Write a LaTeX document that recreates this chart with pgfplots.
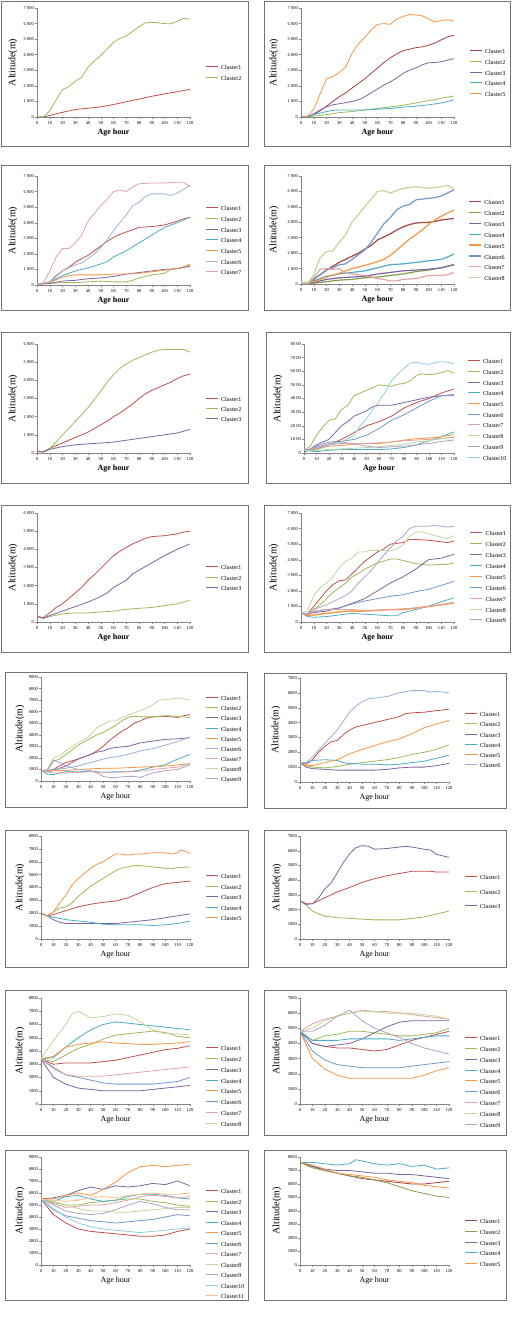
\documentclass[border=0pt]{standalone}
\usepackage{fontspec}
\setmainfont{Liberation Serif}
\usepackage{pgfplots}
\pgfplotsset{compat=1.18}
\definecolor{c1}{HTML}{C0504D}
\definecolor{c2}{HTML}{9BBB59}
\definecolor{c3}{HTML}{8064A2}
\definecolor{c4}{HTML}{4BACC6}
\definecolor{c5}{HTML}{F79646}
\definecolor{c6}{HTML}{7397CC}
\definecolor{c7}{HTML}{E3A3A1}
\definecolor{c8}{HTML}{C3D69B}
\definecolor{c9}{HTML}{B3A2C7}
\definecolor{c10}{HTML}{93CDDD}
\definecolor{c11}{HTML}{FAC090}
\definecolor{axgray}{HTML}{868686}
\pgfplotsset{
  excel/.style={
    scale only axis, xmin=0, xmax=120, ymin=0, anchor=south west,
    axis x line*=bottom, axis y line*=left,
    axis line style={draw=axgray, line width=0.5pt},
    xtick={0,10,...,120},
    xticklabels={0,10,20,30,40,50,60,70,80,90,100,110,120},
    tick style={draw=axgray, line width=0.4pt},
    tick align=outside, major tick length=2pt,
    tick label style={font=\fontsize{4.5}{5}\selectfont, inner sep=1pt},
    xticklabel style={yshift=-1.8pt},
    every axis x label/.style={at={(axis description cs:0.5,0)}, yshift=-16pt, anchor=center},
    ylabel={Altitude(m)}, xlabel={Age hour},
    ylabel style={font=\fontsize{9}{9}\selectfont\bfseries},
    xlabel style={font=\fontsize{8}{8}\selectfont\bfseries},
    legend cell align=left,
    legend image code/.code={\draw[##1] (0pt,1.6pt) -- (12pt,1.6pt);},
    legend style={at={(axis description cs:0,0)}, anchor=north west, draw=none, fill=none,
      font=\fontsize{6}{6}\selectfont, inner xsep=0pt, inner ysep=0pt,
      nodes={inner sep=0pt, text height=4.2pt, text depth=1.2pt}, column sep=3pt},
    every axis plot/.append style={line width=0.8pt, mark=none},
  },
  ylab/.style={every axis y label/.style={at={(axis description cs:#1,0.5)}, rotate=90, anchor=center}},
  light/.style={ylabel style={font=\fontsize{9}{9}\selectfont}, xlabel style={font=\fontsize{8}{8}\selectfont}},
}
\begin{document}
\begin{tikzpicture}[x=1pt,y=1pt]
\fill[white] (0,0) rectangle (514,1324);
\path[use as bounding box] (0,0) rectangle (514,1324);

% ---------- P1 ----------
\begin{axis}[excel, at={(37pt,1207pt)}, width=153pt, height=109pt, ymax=7000,
  ytick={0,1000,...,7000}, yticklabels={0,1 000,2 000,3 000,4 000,5 000,6 000,7 000},
  ylab=-0.157,
  legend style={xshift=168pt, yshift=51.6pt, row sep=5.6pt},
  legend entries={Cluster1,Cluster2}]
\addplot[c1] coordinates {(0,0)(5,0)(10,100)(20,300)(30,480)(40,560)(50,650)(60,800)(70,980)(80,1150)(90,1330)(100,1480)(110,1620)(120,1780)};
\addplot[c2] coordinates {(0,0)(5,0)(10,400)(15,1100)(20,1750)(25,1950)(30,2300)(35,2550)(40,3200)(45,3600)(50,3950)(55,4350)(60,4800)(65,5050)(70,5200)(75,5500)(80,5800)(85,6050)(90,6080)(95,6050)(100,6000)(105,5980)(110,6150)(115,6330)(120,6280)};
\end{axis}

% ---------- P2 ----------
\begin{axis}[excel, at={(301pt,1207pt)}, width=153pt, height=109pt, ymax=7000,
  ytick={0,1000,...,7000}, yticklabels={0,1 000,2 000,3 000,4 000,5 000,6 000,7 000},
  ylab=-0.176,
  legend style={xshift=168pt, yshift=67.6pt, row sep=5.3pt},
  legend entries={Cluster1,Cluster2,Cluster3,Cluster4,Cluster5}]
\addplot[c1!85!black] coordinates {(0,0)(5,20)(10,150)(15,400)(20,700)(25,1000)(30,1300)(35,1550)(40,1850)(45,2150)(50,2450)(55,2800)(60,3150)(65,3500)(70,3800)(75,4050)(80,4250)(85,4350)(90,4450)(95,4500)(100,4600)(105,4750)(110,4950)(115,5150)(120,5250)};
\addplot[c2] coordinates {(0,0)(10,50)(20,150)(30,280)(40,350)(50,450)(60,550)(70,650)(80,750)(90,900)(100,1050)(110,1200)(120,1350)};
\addplot[c3] coordinates {(0,0)(5,30)(10,200)(15,450)(20,650)(25,780)(30,850)(35,920)(40,1000)(45,1100)(50,1300)(55,1550)(60,1800)(65,2050)(70,2250)(75,2500)(80,2800)(85,3000)(90,3150)(95,3350)(100,3480)(105,3500)(110,3550)(115,3650)(120,3750)};
\addplot[c4] coordinates {(0,0)(5,30)(10,150)(15,250)(20,350)(25,420)(30,450)(40,450)(50,450)(60,500)(70,550)(80,630)(90,700)(100,780)(110,900)(120,1100)};
\addplot[c5] coordinates {(0,0)(5,50)(10,500)(15,1500)(20,2450)(25,2600)(30,2850)(35,3200)(40,4100)(45,4700)(50,5100)(55,5600)(60,5950)(65,6000)(70,5950)(75,6300)(80,6450)(85,6580)(90,6550)(95,6500)(100,6300)(105,6100)(110,6200)(115,6250)(120,6150)};
\end{axis}

% ---------- P3 ----------
\begin{axis}[excel, at={(37pt,1039pt)}, width=153pt, height=109pt, ymax=7000,
  ytick={0,1000,...,7000}, yticklabels={0,1 000,2 000,3 000,4 000,5 000,6 000,7 000},
  ylab=-0.157,
  legend style={xshift=168pt, yshift=78.6pt, row sep=5.3pt},
  legend entries={Cluster1,Cluster2,Cluster3,Cluster4,Cluster5,Cluster6,Cluster7}]
\addplot[c1] coordinates {(0,50)(5,80)(10,200)(15,600)(20,900)(25,1150)(30,1450)(35,1700)(40,1900)(45,2200)(50,2500)(55,2800)(60,3050)(65,3250)(70,3400)(75,3550)(80,3700)(90,3750)(100,3850)(110,4100)(115,4250)(120,4350)};
\addplot[c2] coordinates {(0,50)(10,100)(20,150)(30,150)(40,200)(50,250)(60,200)(70,200)(75,300)(80,450)(90,650)(100,750)(105,1000)(110,1050)(115,1150)(120,1350)};
\addplot[c3] coordinates {(0,50)(10,100)(20,250)(30,300)(40,400)(50,450)(60,550)(70,700)(80,800)(90,900)(100,1000)(110,1050)(120,1200)};
\addplot[c4] coordinates {(0,50)(10,200)(20,600)(30,900)(40,1100)(50,1350)(55,1500)(60,1800)(70,2200)(80,2700)(90,3200)(100,3700)(110,4000)(120,4350)};
\addplot[c5] coordinates {(0,50)(10,150)(20,500)(25,600)(30,650)(40,650)(50,650)(60,700)(70,700)(80,750)(90,850)(100,950)(110,1050)(120,1300)};
\addplot[c6!70!white] coordinates {(0,50)(10,200)(20,900)(25,1100)(30,1300)(35,1400)(40,1700)(45,2000)(50,2400)(55,2900)(60,3500)(65,4000)(70,4500)(75,5100)(80,5300)(85,5700)(90,5850)(100,5850)(105,5750)(110,5900)(115,6150)(120,6400)};
\addplot[c7] coordinates {(0,50)(5,100)(10,900)(15,1800)(20,2350)(25,2350)(30,2700)(35,3200)(40,4100)(45,4600)(50,5100)(55,5500)(60,6000)(65,6100)(70,6000)(75,6300)(80,6500)(90,6550)(100,6550)(110,6600)(115,6600)(120,6300)};
\end{axis}

% ---------- P4 ----------
\begin{axis}[excel, at={(301pt,1040pt)}, width=153pt, height=108pt, ymax=7000,
  ytick={0,1000,...,7000}, yticklabels={0,1 000,2 000,3 000,4 000,5 000,6 000,7 000},
  ylab=-0.176,
  every axis plot/.append style={line width=1.2pt},
  legend style={xshift=167pt, yshift=83.6pt, row sep=5.45pt},
  legend entries={Cluster1,Cluster2,Cluster3,Cluster4,Cluster5,Cluster6,Cluster7,Cluster8}]
\addplot[c1!85!black] coordinates {(0,100)(5,50)(10,300)(15,600)(20,900)(25,1150)(30,1400)(35,1600)(40,1800)(45,2000)(50,2250)(55,2500)(60,2850)(65,3050)(70,3250)(75,3500)(80,3700)(85,3850)(90,3950)(100,4000)(105,4050)(110,4150)(120,4250)};
\addplot[c2!85!black] coordinates {(0,100)(5,30)(10,50)(20,150)(30,250)(40,300)(50,400)(60,450)(70,550)(80,650)(90,800)(100,900)(110,1050)(120,1250)};
\addplot[c3] coordinates {(0,100)(5,30)(10,100)(20,300)(30,400)(40,450)(50,500)(60,650)(70,750)(80,850)(90,900)(100,950)(110,1050)(120,1250)};
\addplot[c4] coordinates {(0,100)(5,30)(10,200)(20,500)(30,650)(40,750)(50,850)(60,1050)(70,1250)(80,1300)(90,1400)(100,1500)(110,1600)(115,1750)(120,1950)};
\addplot[c5] coordinates {(0,100)(5,30)(10,150)(20,450)(30,700)(40,1000)(50,1200)(60,1450)(65,1600)(70,1850)(75,2200)(80,2550)(85,2900)(90,3200)(95,3500)(100,3850)(105,4150)(110,4400)(115,4600)(120,4800)};
\addplot[c6] coordinates {(0,100)(5,30)(10,300)(15,600)(20,900)(25,1050)(30,1250)(35,1300)(40,1600)(45,1900)(50,2200)(55,2700)(60,3300)(65,3900)(70,4300)(75,4800)(80,5050)(85,5150)(90,5450)(95,5500)(100,5550)(105,5600)(110,5700)(115,5900)(120,6100)};
\addplot[c7] coordinates {(0,100)(5,30)(10,400)(15,950)(20,1000)(25,950)(30,1000)(35,700)(40,650)(45,600)(50,550)(55,450)(60,350)(65,300)(70,200)(75,200)(80,300)(90,350)(100,550)(110,550)(115,600)(120,750)};
\addplot[c8] coordinates {(0,100)(5,30)(10,600)(15,1700)(20,2100)(25,2150)(30,2700)(35,3200)(40,4000)(45,4500)(50,5000)(55,5500)(60,6000)(65,6050)(70,5900)(75,6050)(80,6200)(85,6250)(90,6300)(95,6250)(100,6200)(105,6250)(110,6300)(115,6400)(120,6150)};
\end{axis}

% ---------- P5 ----------
\begin{axis}[excel, at={(37pt,871pt)}, width=153pt, height=109pt, ymax=6000,
  ytick={0,1000,...,6000}, yticklabels={0,1 000,2 000,3 000,4 000,5 000,6 000},
  ylab=-0.157,
  legend style={xshift=168pt, yshift=55.6pt, row sep=4.6pt},
  legend entries={Cluster1,Cluster2,Cluster3}]
\addplot[c1] coordinates {(0,100)(5,80)(10,250)(15,400)(20,550)(25,700)(30,850)(35,1000)(40,1150)(45,1350)(50,1550)(55,1750)(60,2000)(65,2200)(70,2450)(75,2700)(80,3000)(85,3250)(90,3450)(95,3600)(100,3750)(105,3900)(110,4100)(115,4250)(120,4350)};
\addplot[c2] coordinates {(0,100)(5,50)(10,250)(15,600)(20,1000)(25,1350)(30,1750)(35,2100)(40,2500)(45,2950)(50,3400)(55,3900)(60,4300)(65,4650)(70,4900)(75,5100)(80,5250)(85,5400)(90,5550)(95,5650)(100,5700)(105,5700)(110,5700)(115,5700)(120,5550)};
\addplot[c3] coordinates {(0,100)(5,50)(10,200)(20,350)(30,450)(40,500)(50,550)(60,600)(70,700)(80,800)(90,900)(100,1000)(110,1100)(120,1300)};
\end{axis}

% ---------- P6 ----------
\begin{axis}[excel, at={(304pt,871pt)}, width=150pt, height=109pt, ymax=8000,
  ytick={0,1000,...,8000}, yticklabels={0,10 00,20 00,30 00,40 00,50 00,60 00,70 00,80 00},
  ylab=-0.173,
  legend style={xshift=163pt, yshift=93.6pt, row sep=5.3pt},
  legend entries={Cluster1,Cluster2,Cluster3,Cluster4,Cluster5,Cluster6,Cluster7,Cluster8,Cluster9,Cluster10}]
\addplot[c1] coordinates {(0,100)(5,200)(10,300)(20,600)(30,1000)(40,1500)(50,2000)(60,2300)(70,2700)(80,3300)(90,3700)(100,4000)(110,4400)(120,4700)};
\addplot[c2] coordinates {(0,200)(5,500)(10,1300)(15,1900)(20,2400)(25,2500)(30,3200)(35,3500)(40,4200)(45,4400)(50,4600)(55,4800)(60,5000)(65,4950)(70,4900)(75,5050)(80,5100)(85,5300)(90,5700)(95,5800)(100,5750)(105,5800)(110,5900)(115,6050)(120,5850)};
\addplot[c3] coordinates {(0,100)(5,300)(10,600)(20,1000)(25,1500)(30,2000)(35,2300)(40,2700)(45,2900)(50,3100)(55,3400)(60,3500)(70,3500)(80,3700)(90,3900)(100,4100)(110,4200)(120,4200)};
\addplot[c4] coordinates {(0,200)(10,100)(20,200)(30,250)(40,250)(50,250)(60,250)(70,300)(80,400)(90,600)(100,900)(110,1200)(120,1550)};
\addplot[c5] coordinates {(0,200)(10,300)(20,500)(30,550)(40,650)(50,700)(60,700)(70,800)(80,950)(90,1050)(100,1100)(110,1200)(120,1350)};
\addplot[c6] coordinates {(0,200)(5,200)(10,500)(20,800)(30,850)(40,1000)(50,1300)(60,1800)(70,2400)(80,2800)(90,3300)(100,3800)(110,4200)(120,4300)};
\addplot[c7] coordinates {(0,200)(10,400)(20,700)(30,800)(40,700)(50,700)(60,750)(70,800)(80,900)(90,950)(100,1000)(110,1050)(120,1150)};
\addplot[c8] coordinates {(0,200)(10,200)(20,250)(30,300)(40,350)(50,400)(60,450)(70,550)(80,650)(90,800)(100,900)(110,1050)(120,1200)};
\addplot[c9] coordinates {(0,200)(10,400)(20,600)(30,700)(40,650)(50,500)(60,400)(70,450)(80,500)(90,600)(100,700)(110,850)(120,950)};
\addplot[c10] coordinates {(0,200)(10,200)(20,600)(30,800)(40,1300)(45,2000)(50,2500)(55,3200)(60,3800)(65,4500)(70,5300)(75,5800)(80,6200)(85,6600)(90,6650)(95,6550)(100,6500)(105,6650)(110,6700)(115,6650)(120,6550)};
\end{axis}

% ---------- P7 ----------
\begin{axis}[excel, at={(37pt,702pt)}, width=153pt, height=109pt, ymax=6000,
  ytick={0,1000,...,6000}, yticklabels={0,1 000,2 000,3 000,4 000,5 000,6 000},
  ylab=-0.157,
  legend style={xshift=168pt, yshift=56.6pt, row sep=5.1pt},
  legend entries={Cluster1,Cluster2,Cluster3}]
\addplot[c1] coordinates {(0,300)(5,250)(10,500)(15,800)(20,1000)(25,1300)(30,1600)(35,1900)(40,2300)(45,2600)(50,2950)(55,3300)(60,3650)(65,3900)(70,4100)(75,4300)(80,4450)(85,4600)(90,4700)(100,4750)(110,4850)(115,4950)(120,5000)};
\addplot[c2] coordinates {(0,300)(5,200)(10,300)(20,450)(30,500)(40,500)(50,550)(60,600)(70,700)(80,750)(90,800)(100,900)(110,1000)(120,1200)};
\addplot[c3] coordinates {(0,300)(5,200)(10,350)(20,600)(30,850)(40,1100)(50,1400)(55,1600)(60,1900)(70,2300)(75,2650)(80,2850)(90,3250)(100,3650)(110,4000)(120,4300)};
\end{axis}

% ---------- P8 ----------
\begin{axis}[excel, at={(301pt,702pt)}, width=153pt, height=109pt, ymax=7000,
  ytick={0,1000,...,7000}, yticklabels={0,1 000,2 000,3 000,4 000,5 000,6 000,7 000},
  ylab=-0.176,
  legend style={xshift=168pt, yshift=90.6pt, row sep=5.5pt},
  legend entries={Cluster1,Cluster2,Cluster3,Cluster4,Cluster5,Cluster6,Cluster7,Cluster8,Cluster9}]
\addplot[c1] coordinates {(0,600)(5,500)(10,1000)(15,1500)(20,2000)(25,2400)(30,2650)(35,2700)(40,3100)(45,3500)(50,3900)(55,4200)(60,4500)(65,4700)(70,5000)(75,5050)(80,5100)(85,5300)(90,5300)(100,5250)(110,5150)(115,5100)(120,5200)};
\addplot[c2] coordinates {(0,600)(5,450)(10,800)(15,1100)(20,1500)(25,1900)(30,2200)(35,2500)(40,2900)(45,3100)(50,3400)(55,3600)(60,3800)(65,3900)(70,4050)(75,4050)(80,3950)(85,3850)(90,3750)(100,3650)(110,3700)(115,3700)(120,3800)};
\addplot[c3] coordinates {(0,600)(5,500)(10,600)(20,700)(30,900)(40,1200)(50,1500)(60,2000)(70,2500)(80,2900)(90,3400)(100,4000)(110,4100)(120,4350)};
\addplot[c4] coordinates {(0,600)(5,350)(10,300)(20,350)(30,450)(40,550)(50,500)(60,450)(70,400)(75,400)(80,600)(90,800)(100,1000)(110,1300)(120,1550)};
\addplot[c5, line width=1.4pt] coordinates {(0,600)(5,400)(10,450)(20,550)(30,650)(40,700)(50,700)(60,750)(70,800)(80,800)(90,900)(100,1000)(110,1100)(120,1250)};
\addplot[c6] coordinates {(0,600)(5,450)(10,650)(20,800)(30,900)(40,1150)(50,1350)(60,1500)(70,1650)(80,1750)(90,1950)(100,2100)(110,2350)(120,2600)};
\addplot[c7] coordinates {(0,600)(5,450)(10,700)(20,800)(30,800)(40,800)(50,750)(60,750)(70,800)(80,850)(90,900)(100,1000)(110,1100)(120,1200)};
\addplot[c8] coordinates {(0,600)(5,700)(10,1700)(15,2200)(20,2500)(25,2900)(30,3500)(35,3900)(40,4100)(45,4500)(50,4500)(55,4600)(60,4600)(65,4600)(70,4550)(75,4700)(80,4950)(85,5500)(90,5750)(95,5800)(100,5650)(105,5550)(110,5450)(115,5350)(120,5550)};
\addplot[c9] coordinates {(0,600)(5,500)(10,800)(20,1100)(30,1500)(35,1700)(40,2000)(45,2500)(50,2900)(55,3300)(60,3800)(65,4300)(70,4750)(75,5200)(80,5500)(85,6000)(90,6150)(95,6150)(100,6150)(105,6200)(110,6150)(115,6100)(120,6150)};
\end{axis}

% ---------- P9 ----------
\begin{axis}[excel, light, at={(41pt,543pt)}, width=149pt, height=104pt, ymax=9000,
  ytick={0,1000,...,9000}, yticklabels={0,1000,2000,3000,4000,5000,6000,7000,8000,9000},
  ylab=-0.141,
  legend style={xshift=164pt, yshift=84.6pt, row sep=4.7pt},
  legend entries={Cluster1,Cluster2,Cluster3,Cluster4,Cluster5,Cluster6,Cluster7,Cluster8,Cluster9}]
\addplot[c1] coordinates {(0,900)(5,900)(10,1000)(15,1300)(20,1600)(25,1750)(30,1900)(35,2100)(40,2300)(45,2600)(50,3000)(55,3500)(60,3900)(65,4300)(70,4600)(75,5000)(80,5200)(85,5450)(90,5550)(100,5600)(110,5500)(115,5650)(120,5750)};
\addplot[c2] coordinates {(0,900)(5,900)(10,1700)(15,1900)(20,2300)(25,2700)(30,3100)(35,3400)(40,3700)(45,4000)(50,4200)(55,4500)(60,4800)(65,5200)(70,5500)(75,5600)(80,5550)(90,5550)(100,5650)(110,5600)(120,5500)};
\addplot[c3] coordinates {(0,900)(5,800)(10,900)(15,1100)(20,1300)(25,1600)(30,1900)(35,2100)(40,2300)(45,2500)(50,2600)(55,2800)(60,2900)(70,3000)(80,3300)(90,3450)(100,3600)(110,3650)(120,3750)};
\addplot[c4] coordinates {(0,900)(5,600)(10,550)(15,700)(20,800)(30,800)(40,850)(50,750)(60,800)(70,800)(80,950)(90,1200)(100,1400)(110,1900)(120,2300)};
\addplot[c5] coordinates {(0,900)(10,900)(20,900)(30,1000)(40,1050)(50,1100)(60,1100)(70,1150)(80,1200)(90,1250)(100,1300)(110,1400)(120,1500)};
\addplot[c6!75!white] coordinates {(0,900)(5,800)(10,1000)(20,1100)(30,1300)(40,1600)(50,1900)(60,2100)(70,2300)(80,2600)(90,2800)(100,3100)(110,3400)(120,3800)};
\addplot[c7] coordinates {(0,900)(10,700)(20,700)(30,750)(40,800)(50,750)(60,750)(70,800)(80,850)(90,1000)(100,1100)(110,1200)(120,1500)};
\addplot[c8] coordinates {(0,900)(5,1000)(10,2000)(15,2200)(20,2600)(25,3000)(30,3300)(35,3600)(40,4000)(45,4600)(50,4900)(55,5200)(60,5200)(65,5500)(70,5700)(75,5900)(80,6100)(85,6300)(90,6600)(95,7000)(100,7050)(105,7100)(110,7200)(115,7100)(120,7000)};
\addplot[c9] coordinates {(0,900)(5,900)(10,1800)(15,1600)(20,1300)(30,1000)(40,900)(45,700)(50,400)(55,300)(60,300)(70,400)(75,400)(80,300)(85,500)(90,700)(100,900)(110,1000)(120,1400)};
\end{axis}

% ---------- P10 ----------
\begin{axis}[excel, light, at={(300pt,542pt)}, width=149pt, height=104pt, ymax=7000,
  ytick={0,1000,...,7000}, yticklabels={0,1000,2000,3000,4000,5000,6000,7000},
  ylab=-0.161,
  legend style={xshift=164pt, yshift=69.6pt, row sep=4.8pt},
  legend entries={Cluster1,Cluster2,Cluster3,Cluster4,Cluster5,Cluster6}]
\addplot[c1] coordinates {(0,1300)(5,1200)(10,1500)(15,2000)(20,2400)(25,2700)(30,2800)(35,3200)(40,3500)(45,3700)(50,3800)(60,4000)(70,4200)(80,4400)(85,4600)(90,4650)(100,4700)(110,4800)(120,4900)};
\addplot[c2] coordinates {(0,1300)(5,1100)(10,1000)(20,950)(30,1050)(40,1200)(50,1300)(60,1400)(70,1500)(80,1650)(90,1850)(100,2000)(110,2200)(120,2500)};
\addplot[c3] coordinates {(0,1300)(5,1000)(10,900)(20,850)(30,800)(40,800)(50,800)(60,800)(70,850)(80,950)(90,1000)(100,1000)(110,1100)(120,1250)};
\addplot[c4] coordinates {(0,1300)(5,1300)(10,1450)(20,1500)(30,1450)(35,1300)(40,1250)(50,1200)(60,1200)(70,1150)(80,1200)(90,1300)(100,1400)(110,1600)(120,1800)};
\addplot[c5] coordinates {(0,1300)(5,1100)(10,1100)(20,1300)(30,1500)(40,1900)(50,2200)(60,2450)(70,2700)(80,2900)(90,3250)(100,3650)(110,3900)(120,4150)};
\addplot[c6!75!white] coordinates {(0,1300)(5,1300)(10,1700)(20,2600)(30,3500)(40,4700)(45,5100)(50,5400)(55,5600)(60,5650)(70,5750)(80,6000)(90,6150)(100,6150)(105,6050)(110,6100)(120,6000)};
\end{axis}

% ---------- P11 ----------
\begin{axis}[excel, light, at={(41pt,385pt)}, width=149pt, height=103pt, ymax=8000,
  ytick={0,1000,...,8000}, yticklabels={0,1000,2000,3000,4000,5000,6000,7000,8000},
  ylab=-0.141,
  legend style={xshift=164pt, yshift=64.6pt, row sep=5.1pt},
  legend entries={Cluster1,Cluster2,Cluster3,Cluster4,Cluster5}]
\addplot[c1] coordinates {(0,2000)(5,1800)(10,1900)(20,2200)(30,2500)(40,2700)(50,2850)(60,2950)(70,3200)(80,3600)(90,4000)(100,4300)(110,4400)(120,4500)};
\addplot[c2] coordinates {(0,2000)(5,1800)(10,2100)(15,2400)(20,2500)(25,2800)(30,3300)(35,3700)(40,4100)(45,4400)(50,4700)(55,5000)(60,5300)(65,5500)(70,5600)(75,5700)(80,5700)(90,5600)(100,5500)(105,5450)(110,5550)(120,5600)};
\addplot[c3] coordinates {(0,2000)(5,1800)(10,1500)(15,1300)(20,1200)(30,1200)(40,1200)(50,1200)(60,1200)(70,1300)(80,1400)(90,1500)(100,1650)(110,1800)(120,1950)};
\addplot[c4] coordinates {(0,2000)(5,1800)(10,1700)(20,1500)(30,1400)(40,1300)(50,1150)(60,1100)(70,1100)(80,1100)(90,1050)(100,1100)(110,1200)(120,1400)};
\addplot[c5] coordinates {(0,2000)(5,1800)(10,2100)(15,2800)(20,3400)(25,4200)(30,4700)(35,5100)(40,5500)(45,5800)(50,6000)(55,6300)(60,6600)(65,6600)(70,6500)(75,6600)(80,6600)(90,6700)(100,6700)(105,6600)(110,6700)(112,6900)(115,6850)(120,6650)};
\end{axis}

% ---------- P12 ----------
\begin{axis}[excel, light, at={(300pt,385pt)}, width=149pt, height=103pt, ymax=7000,
  ytick={0,1000,...,7000}, yticklabels={0,1000,2000,3000,4000,5000,6000,7000},
  ylab=-0.154,
  legend style={xshift=164pt, yshift=63.6pt, row sep=9.1pt},
  legend entries={Cluster1,Cluster2,Cluster3}]
\addplot[c1] coordinates {(0,2600)(5,2400)(10,2400)(20,2800)(30,3200)(40,3500)(50,3850)(60,4100)(70,4300)(80,4450)(90,4600)(100,4600)(105,4600)(110,4550)(120,4550)};
\addplot[c2] coordinates {(0,2600)(5,2300)(10,1900)(15,1700)(20,1550)(30,1450)(40,1400)(50,1350)(60,1300)(70,1300)(80,1300)(90,1400)(100,1500)(110,1700)(120,1900)};
\addplot[c3] coordinates {(0,2600)(5,2350)(10,2400)(15,2800)(20,3400)(25,3800)(30,4500)(35,5200)(40,5800)(45,6200)(50,6350)(55,6300)(60,6100)(70,6150)(80,6250)(85,6300)(90,6250)(100,6100)(105,6050)(110,5750)(115,5650)(120,5550)};
\end{axis}

% ---------- P13 ----------
\begin{axis}[excel, light, at={(41pt,220pt)}, width=149pt, height=106pt, ymax=8000,
  ytick={0,1000,...,8000}, yticklabels={0,1000,2000,3000,4000,5000,6000,7000,8000},
  ylab=-0.141,
  legend style={xshift=164pt, yshift=57.6pt, row sep=5.4pt},
  legend entries={Cluster1,Cluster2,Cluster3,Cluster4,Cluster5,Cluster6,Cluster7,Cluster8}]
\addplot[c1] coordinates {(0,3400)(10,3000)(20,3100)(30,3100)(40,3100)(50,3200)(60,3300)(70,3500)(80,3700)(90,3900)(100,4100)(110,4200)(120,4400)};
\addplot[c2] coordinates {(0,3400)(10,3200)(20,3700)(30,4200)(40,4500)(50,4900)(60,5200)(70,5300)(80,5400)(90,5500)(100,5400)(110,5100)(120,5000)};
\addplot[c3] coordinates {(0,3400)(10,2000)(20,1500)(30,1200)(40,1100)(50,1000)(60,1000)(70,1000)(80,1000)(90,1100)(100,1200)(110,1300)(120,1400)};
\addplot[c4] coordinates {(0,3400)(10,3500)(20,4300)(30,5000)(40,5600)(50,6000)(60,6200)(70,6100)(80,6000)(90,5900)(100,5800)(110,5700)(120,5600)};
\addplot[c5] coordinates {(0,3400)(10,3600)(20,4300)(30,4500)(40,4600)(50,4700)(60,4600)(70,4550)(80,4500)(90,4500)(100,4550)(110,4600)(120,4700)};
\addplot[c6] coordinates {(0,3400)(10,2700)(20,2200)(30,2000)(40,1800)(50,1600)(60,1500)(70,1500)(80,1500)(90,1500)(100,1600)(110,1700)(120,2000)};
\addplot[c7] coordinates {(0,3400)(10,2800)(20,2200)(30,2100)(40,2100)(50,2100)(60,2200)(70,2300)(80,2400)(90,2500)(100,2600)(110,2700)(120,2800)};
\addplot[c8] coordinates {(0,3400)(10,4800)(20,6000)(25,6800)(30,7000)(40,6500)(50,6600)(60,6800)(70,6700)(80,6200)(90,5600)(100,5300)(110,5300)(120,5200)};
\end{axis}

% ---------- P14 ----------
\begin{axis}[excel, light, at={(300pt,220pt)}, width=149pt, height=106pt, ymax=7000,
  ytick={0,1000,...,7000}, yticklabels={0,1000,2000,3000,4000,5000,6000,7000},
  ylab=-0.154,
  legend style={xshift=164pt, yshift=67.6pt, row sep=5.4pt},
  legend entries={Cluster1,Cluster2,Cluster3,Cluster4,Cluster5,Cluster6,Cluster7,Cluster8,Cluster9}]
\addplot[c1] coordinates {(0,4800)(10,4000)(20,3800)(30,3700)(40,3700)(50,3600)(60,3500)(70,3600)(80,3900)(90,4200)(100,4400)(110,4600)(120,4800)};
\addplot[c2] coordinates {(0,4800)(10,4200)(20,4500)(30,4600)(40,4800)(50,4800)(60,4700)(70,4600)(80,4500)(90,4500)(100,4600)(110,4700)(120,5000)};
\addplot[c3] coordinates {(0,4800)(10,4000)(20,3800)(30,3900)(40,4000)(50,4300)(60,4700)(70,5100)(80,5400)(90,5500)(100,5500)(110,5500)(120,5500)};
\addplot[c4] coordinates {(0,4800)(10,4200)(20,4200)(30,4200)(40,4300)(50,4300)(60,4300)(70,4300)(80,4200)(90,4300)(100,4400)(110,4500)(120,4500)};
\addplot[c5] coordinates {(0,4800)(10,3000)(20,2300)(30,1900)(40,1700)(50,1700)(60,1700)(70,1700)(80,1700)(90,1700)(100,1900)(110,2200)(120,2400)};
\addplot[c6] coordinates {(0,4800)(10,3500)(20,2900)(30,2600)(40,2500)(50,2400)(60,2400)(70,2400)(80,2400)(90,2500)(100,2600)(110,2700)(120,2800)};
\addplot[c7] coordinates {(0,4800)(10,5300)(20,5600)(30,5800)(40,6000)(50,6200)(60,6100)(70,6100)(80,6000)(90,5900)(100,5800)(110,5700)(120,5600)};
\addplot[c8] coordinates {(0,4800)(10,5000)(20,5500)(30,5800)(40,6000)(50,6100)(60,6100)(70,6000)(80,6000)(90,6000)(100,5900)(110,5800)(120,5600)};
\addplot[c9] coordinates {(0,4800)(10,4800)(20,5200)(30,5800)(40,6200)(50,5500)(60,5000)(70,4700)(80,4400)(90,4000)(100,3700)(110,3500)(120,3300)};
\end{axis}

% ---------- P15 ----------
\begin{axis}[excel, light, at={(41pt,59pt)}, width=149pt, height=108pt, ymax=9000,
  ytick={0,1000,...,9000}, yticklabels={0,1000,2000,3000,4000,5000,6000,7000,8000,9000},
  ylab=-0.141,
  legend style={xshift=164pt, yshift=75.6pt, row sep=5.1pt},
  legend entries={Cluster1,Cluster2,Cluster3,Cluster4,Cluster5,Cluster6,Cluster7,Cluster8,Cluster9,Cluster10,Cluster11}]
\addplot[c1] coordinates {(0,5500)(10,4200)(20,3500)(30,3000)(40,2800)(50,2700)(60,2600)(70,2500)(80,2400)(90,2400)(100,2500)(110,2800)(120,3000)};
\addplot[c2] coordinates {(0,5500)(10,5200)(20,5000)(30,5000)(40,5200)(50,5300)(60,5400)(70,5500)(80,5500)(90,5300)(100,5200)(110,5000)(120,4900)};
\addplot[c3] coordinates {(0,5500)(10,5600)(20,5800)(30,6200)(40,6500)(50,6300)(60,6600)(70,6500)(80,6600)(90,6800)(100,6700)(110,7000)(120,6600)};
\addplot[c4] coordinates {(0,5500)(10,5300)(20,5700)(30,5800)(40,5500)(50,5300)(60,5400)(70,5700)(80,5900)(90,5900)(100,5800)(110,5600)(120,5500)};
\addplot[c5] coordinates {(0,5500)(10,5500)(20,5800)(30,6000)(40,5800)(50,6300)(60,6900)(70,7700)(80,8200)(90,8300)(100,8200)(110,8300)(120,8400)};
\addplot[c6] coordinates {(0,5500)(10,4600)(20,4100)(30,3900)(40,3700)(50,3600)(60,3500)(70,3600)(80,3700)(90,3800)(100,4000)(110,4200)(120,4100)};
\addplot[c7] coordinates {(0,5500)(10,5100)(20,4800)(30,4900)(40,5000)(50,5000)(60,5200)(70,5400)(80,5700)(90,5800)(100,5700)(110,5600)(120,5700)};
\addplot[c8] coordinates {(0,5500)(10,5300)(20,5000)(30,4700)(40,4500)(50,4500)(60,4400)(70,4400)(80,4500)(90,4600)(100,4700)(110,4800)(120,4800)};
\addplot[c9] coordinates {(0,5500)(10,5000)(20,4500)(30,4300)(40,4200)(50,4300)(60,4600)(70,5000)(80,5300)(90,5100)(100,4800)(110,4600)(120,4600)};
\addplot[c10] coordinates {(0,5500)(10,4700)(20,4000)(30,3500)(40,3200)(50,3000)(60,2900)(70,2800)(80,2700)(90,2800)(100,2900)(110,3000)(120,3100)};
\addplot[c11] coordinates {(0,5500)(10,5400)(20,5300)(30,5400)(40,5600)(50,5700)(60,5600)(70,5800)(80,5900)(90,6000)(100,5900)(110,5900)(120,6000)};
\end{axis}

% ---------- P16 ----------
\begin{axis}[excel, light, at={(300pt,59pt)}, width=149pt, height=108pt, ymax=8000,
  ytick={0,1000,...,8000}, yticklabels={0,1000,2000,3000,4000,5000,6000,7000,8000},
  ylab=-0.154,
  legend style={xshift=164pt, yshift=45.6pt, row sep=5.3pt},
  legend entries={Cluster1,Cluster2,Cluster3,Cluster4,Cluster5}]
\addplot[c1!85!black] coordinates {(0,7600)(10,7300)(20,7000)(30,6800)(40,6600)(50,6400)(60,6300)(70,6200)(80,6100)(90,6000)(100,6000)(110,6100)(120,6200)};
\addplot[c2!85!black] coordinates {(0,7600)(10,7200)(20,7000)(30,6800)(40,6600)(50,6500)(60,6300)(70,6100)(80,5800)(90,5500)(100,5300)(110,5100)(120,5000)};
\addplot[c3] coordinates {(0,7600)(10,7300)(20,7100)(30,7000)(40,7000)(50,6900)(60,6800)(70,6800)(80,6700)(90,6700)(100,6600)(110,6500)(120,6400)};
\addplot[c4] coordinates {(0,7600)(10,7600)(20,7500)(30,7400)(40,7500)(45,7800)(50,7700)(60,7500)(70,7400)(80,7500)(90,7300)(100,7400)(110,7100)(120,7200)};
\addplot[c5] coordinates {(0,7600)(10,7400)(20,7100)(30,6800)(40,6700)(50,6600)(60,6500)(70,6300)(80,6200)(90,6100)(100,5900)(110,5800)(120,5700)};
\end{axis}

% panel borders
\begin{scope}[draw=black!55, line width=0.8pt]
\draw (1,1178) rectangle (248,1323);
\draw (264,1178) rectangle (510,1323);
\draw (1,1014) rectangle (248,1159);
\draw (264,1014) rectangle (510,1159);
\draw (1,841) rectangle (248,992);
\draw (266,841) rectangle (510,992);
\draw (1,672) rectangle (248,819);
\draw (264,672) rectangle (510,819);
\draw (5,517) rectangle (247,652);
\draw (264,516) rectangle (506,651);
\draw (5,357) rectangle (248,494);
\draw (264,357) rectangle (506,494);
\draw (5,189) rectangle (248,334);
\draw (264,189) rectangle (506,334);
\draw (5,24) rectangle (248,174);
\draw (264,24) rectangle (506,174);
\end{scope}
\end{tikzpicture}
\end{document}
